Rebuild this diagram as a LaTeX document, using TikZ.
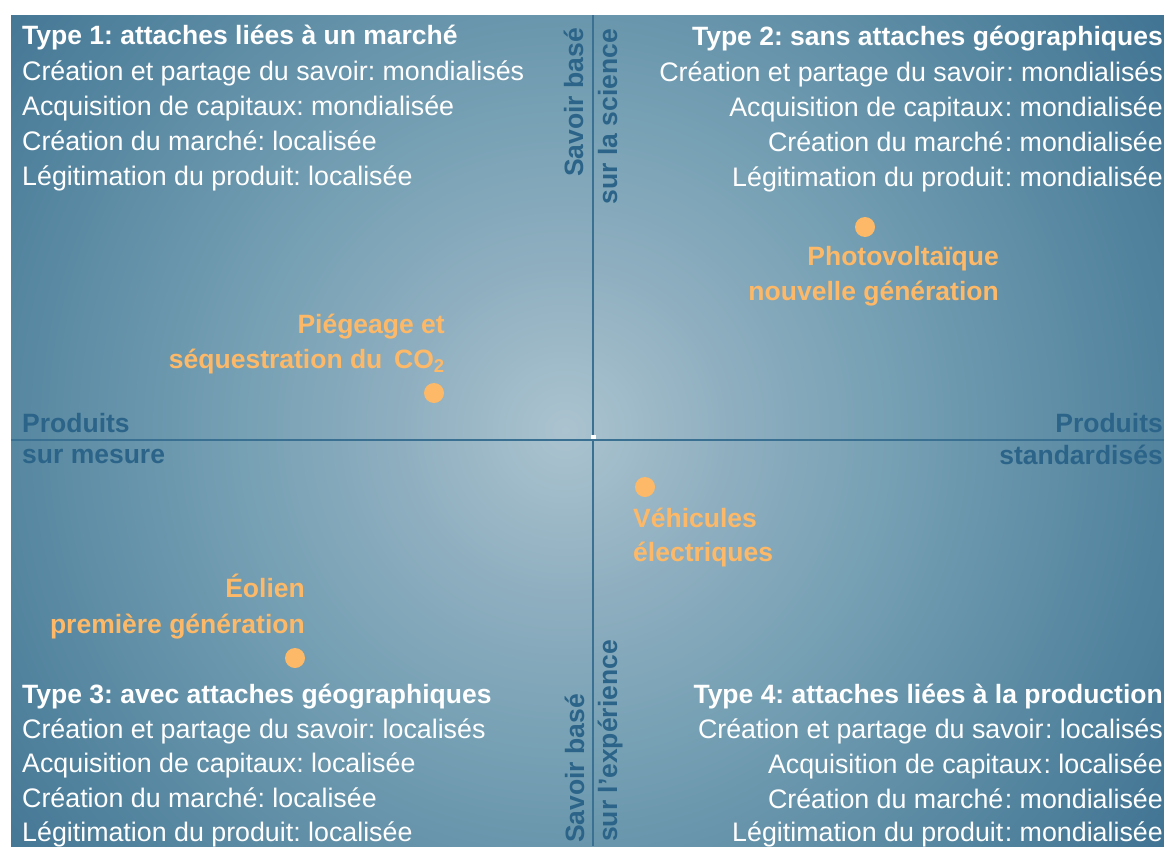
\documentclass[tikz,border=0pt]{standalone}
\usepackage{fontspec}
\setmainfont{Liberation Sans}
\frenchspacing
\definecolor{bgc0}{HTML}{ABC3CF}
\definecolor{bgc1}{HTML}{8FAFC0}
\definecolor{bgc2}{HTML}{76A0B4}
\definecolor{bgc3}{HTML}{5A8AA3}
\definecolor{bgc4}{HTML}{3B6F8F}
\definecolor{bgc5}{HTML}{24597A}
\definecolor{axisline}{HTML}{3A7092}
\definecolor{axisblue}{HTML}{2B6488}
\definecolor{orangec}{HTML}{FDB967}
\pgfdeclareradialshading{bgshade}{\pgfpoint{0bp}{0bp}}{color(0bp)=(bgc0); color(5.6bp)=(bgc1); color(11.1bp)=(bgc2); color(18.1bp)=(bgc3); color(26.5bp)=(bgc4); color(34.9bp)=(bgc5); color(50bp)=(bgc5)}
\newcommand\bodyfnt{\fontsize{26.8}{35}\selectfont}
\newcommand\boldfnt{\fontsize{26.5}{35}\selectfont\bfseries}
\tikzset{
  body/.style={font=\bodyfnt, text=white, inner sep=0pt},
  ttl/.style={font=\boldfnt, text=white, inner sep=0pt},
  axl/.style={font=\boldfnt, text=axisblue, inner sep=0pt},
  tech/.style={font=\boldfnt, text=orangec, inner sep=0pt},
  pt/.style={circle, fill=orangec, minimum size=20pt, inner sep=0pt},
  axisrule/.style={draw=axisline, line width=2pt}
}
\begin{document}
\begin{tikzpicture}[x=1pt,y=-1pt]
\useasboundingbox (0,0) rectangle (1164,846);
\fill[white] (0,0) rectangle (1164,846);
\begin{scope}
\clip (11,15) rectangle (1164,846);
\fill[bgc5] (11,15) rectangle (1164,846);
\shade[shading=bgshade] (565,430) circle (730pt);
\end{scope}
% axes
\coordinate (vt) at (592.7,15);
\coordinate (vb) at (592.7,846);
\coordinate (hl) at (11,440);
\coordinate (hr) at (1164,440);
\draw[axisrule] (vt) -- (vb);
\draw[axisrule] (hl) -- (hr);
\fill[white] (591,435) rectangle (596,439);
% Type 1
\node[ttl, anchor=base west] (t1) at (22,44) {Type 1: attaches liées à un marché};
\node[body, anchor=base west] (t1a) at (22,80) {Création et partage du savoir: mondialisés};
\node[body, anchor=base west] (t1b) at (22,115) {Acquisition de capitaux: mondialisée};
\node[body, anchor=base west] (t1c) at (22,150) {Création du marché: localisée};
\node[body, anchor=base west] (t1d) at (22,185) {Légitimation du produit: localisée};
% Type 2
\node[ttl, anchor=base east] (t2) at (1163,45) {Type 2: sans attaches géographiques};
\node[body, anchor=base east] (t2a) at (1163,81) {Création et partage du savoir\kern1.5pt: mondialisés};
\node[body, anchor=base east] (t2b) at (1163,116) {Acquisition de capitaux\kern1.5pt: mondialisée};
\node[body, anchor=base east] (t2c) at (1163,151) {Création du marché\kern1.5pt: mondialisée};
\node[body, anchor=base east] (t2d) at (1163,186) {Légitimation du produit\kern1.5pt: mondialisée};
% Type 3
\node[ttl, anchor=base west] (t3) at (22,703) {Type 3: avec attaches géographiques};
\node[body, anchor=base west] (t3a) at (22,738) {Création et partage du savoir: localisés};
\node[body, anchor=base west] (t3b) at (22,772) {Acquisition de capitaux: localisée};
\node[body, anchor=base west] (t3c) at (22,807) {Création du marché: localisée};
\node[body, anchor=base west] (t3d) at (22,841) {Légitimation du produit: localisée};
% Type 4
\node[ttl, anchor=base east] (t4) at (1163,703) {Type 4: attaches liées à la production};
\node[body, anchor=base east] (t4a) at (1163,738) {Création et partage du savoir\kern1.5pt: localisés};
\node[body, anchor=base east] (t4b) at (1163,773) {Acquisition de capitaux\kern1.5pt: localisée};
\node[body, anchor=base east] (t4c) at (1163,808) {Création du marché\kern1.5pt: mondialisée};
\node[body, anchor=base east] (t4d) at (1163,841) {Légitimation du produit\kern1.5pt: mondialisée};
% axis labels
\node[axl, anchor=base west] (pl1) at (22,432) {Produits};
\node[axl, anchor=base west] (pl2) at (22,463) {sur mesure};
\node[axl, anchor=base east] (pr1) at (1163,432) {Produits};
\node[axl, anchor=base east] (pr2) at (1163,464) {standardisés};
\node[axl, rotate=90, anchor=base east] (st1) at (583,28) {Savoir basé};
\node[axl, rotate=90, anchor=base east] (st2) at (617,29) {sur la science};
\node[axl, rotate=90, anchor=base west] (sb1) at (584,843) {Savoir basé};
\node[axl, rotate=90, anchor=base west] (sb2) at (617,842) {sur l'expérience};
% technologies
\node[pt] (pvd) at (865,227) {};
\node[tech, anchor=base east] (pv1) at (999,265) {Photovoltaïque};
\node[tech, anchor=base east] (pv2) at (999,300) {nouvelle génération};
\node[tech, anchor=base east] (pg1) at (445,333) {Piégeage et};
\node[tech, anchor=base east] (pg2) at (445,368) {séquestration du~\,CO\textsubscript{2}};
\node[pt] (pgd) at (434,393) {};
\node[pt] (vhd) at (645,487) {};
\node[tech, anchor=base west] (vh1) at (633,527) {Véhicules};
\node[tech, anchor=base west] (vh2) at (633,561) {électriques};
\node[tech, anchor=base east] (eo1) at (305,597) {Éolien};
\node[tech, anchor=base east] (eo2) at (305,633) {première génération};
\node[pt] (eod) at (295,658) {};
\end{tikzpicture}
\end{document}
